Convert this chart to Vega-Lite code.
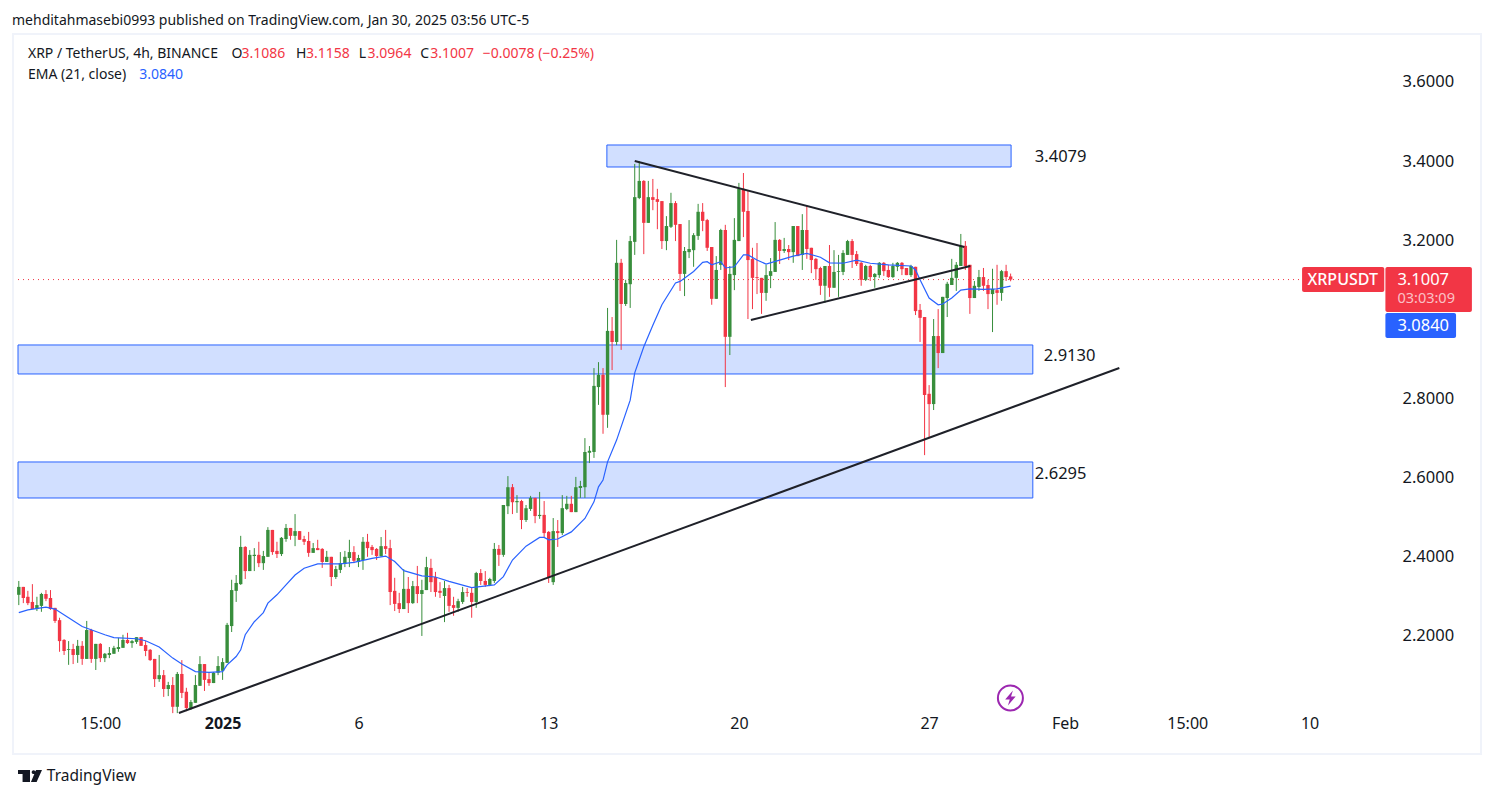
{"$schema":"https://vega.github.io/schema/vega-lite/v6.json","width":1468,"height":720,"autosize":"none","padding":{"left":13,"top":34,"right":13,"bottom":44},"background":"#ffffff","config":{"view":{"stroke":"#f0f3fa","strokeWidth":2},"font":"Noto Sans"},"title":{"text":"mehditahmasebi0993 published on TradingView.com, Jan 30, 2025 03:56 UTC-5","anchor":"start","frame":"group","font":"Noto Sans","fontSize":14,"fontWeight":"normal","color":"#131722","offset":6,"dx":-1},"encoding":{"x":{"field":"t","type":"temporal","title":null,"scale":{"type":"utc","nice":false,"domain":[{"year":2024,"month":12,"date":24,"hours":11,"minutes":18,"utc":true},{"year":2025,"month":2,"date":16,"hours":3,"minutes":1,"utc":true}]},"axis":{"values":[{"year":2024,"month":12,"date":27,"hours":12,"utc":true},{"year":2025,"month":1,"date":1,"utc":true},{"year":2025,"month":1,"date":6,"utc":true},{"year":2025,"month":1,"date":13,"utc":true},{"year":2025,"month":1,"date":20,"utc":true},{"year":2025,"month":1,"date":27,"utc":true},{"year":2025,"month":2,"date":1,"utc":true},{"year":2025,"month":2,"date":5,"hours":12,"utc":true},{"year":2025,"month":2,"date":10,"utc":true}],"labelExpr":"utcmonth(datum.value)==11?'15:00':utcmonth(datum.value)==0&&utcdate(datum.value)==1?'2025':utcmonth(datum.value)==1&&utcdate(datum.value)==1?'Feb':utcmonth(datum.value)==1&&utcdate(datum.value)==5?'15:00':''+utcdate(datum.value)","labelFontWeight":{"condition":{"test":"utcmonth(datum.value)==0&&utcdate(datum.value)==1","value":"bold"},"value":"normal"},"grid":false,"domain":false,"ticks":false,"labelPadding":-31,"labelBaseline":"middle","labelFontSize":16,"labelColor":"#131722","labelFont":"Noto Sans","labelOverlap":false,"labelFlush":false,"labelBound":false}},"y":{"field":"p","type":"quantitative","title":null,"scale":{"nice":false,"zero":false,"domain":[1.9017,3.7213]},"axis":{"orient":"right","values":[2.2,2.4,2.6,2.8,3.0,3.2,3.4,3.6],"format":".4f","grid":false,"domain":false,"ticks":false,"labelPadding":-79,"labelAlign":"left","labelBaseline":"middle","labelFontSize":16.5,"labelColor":"#131722","labelFont":"Noto Sans","labelOverlap":false,"labelBound":false}}},"layer":[{"data":{"values":[{"t":"2025-01-15T03:24Z","t2":"2025-01-30T00:24Z","p":3.4408,"p2":3.3852},{"t":"2024-12-24T11:18Z","t2":"2025-01-30T19:36Z","p":2.9354,"p2":2.8621},{"t":"2024-12-24T11:18Z","t2":"2025-01-30T19:36Z","p":2.6397,"p2":2.5487}],"format":{"parse":{"t":"date","t2":"date"}}},"mark":{"type":"rect","fill":"#d1dfff","stroke":"#2962ff","strokeWidth":1},"encoding":{"x2":{"field":"t2"},"y2":{"field":"p2"}}},{"data":{"values":[{"t":"2024-12-24T11:18Z","t2":"2025-02-12T18:00Z","p":3.1007}],"format":{"parse":{"t":"date","t2":"date"}}},"mark":{"type":"rule","stroke":"#f23645","strokeWidth":1,"strokeDash":[1,4]},"encoding":{"x2":{"field":"t2"}}},{"data":{"name":"candles","values":[
{"t":"2024-12-24T12:00Z","o":2.304,"h":2.339,"l":2.278,"c":2.324},
{"t":"2024-12-24T16:00Z","o":2.324,"h":2.324,"l":2.283,"c":2.296},
{"t":"2024-12-24T20:00Z","o":2.299,"h":2.314,"l":2.278,"c":2.283},
{"t":"2024-12-25T00:00Z","o":2.286,"h":2.331,"l":2.268,"c":2.268},
{"t":"2024-12-25T04:00Z","o":2.268,"h":2.299,"l":2.263,"c":2.278},
{"t":"2024-12-25T08:00Z","o":2.276,"h":2.309,"l":2.261,"c":2.306},
{"t":"2024-12-25T12:00Z","o":2.306,"h":2.316,"l":2.288,"c":2.294},
{"t":"2024-12-25T16:00Z","o":2.296,"h":2.316,"l":2.266,"c":2.268},
{"t":"2024-12-25T20:00Z","o":2.271,"h":2.271,"l":2.233,"c":2.238},
{"t":"2024-12-26T00:00Z","o":2.240,"h":2.246,"l":2.160,"c":2.187},
{"t":"2024-12-26T04:00Z","o":2.190,"h":2.192,"l":2.152,"c":2.162},
{"t":"2024-12-26T08:00Z","o":2.165,"h":2.187,"l":2.127,"c":2.167},
{"t":"2024-12-26T12:00Z","o":2.167,"h":2.180,"l":2.129,"c":2.152},
{"t":"2024-12-26T16:00Z","o":2.152,"h":2.190,"l":2.132,"c":2.175},
{"t":"2024-12-26T20:00Z","o":2.175,"h":2.187,"l":2.127,"c":2.142},
{"t":"2024-12-27T00:00Z","o":2.142,"h":2.238,"l":2.142,"c":2.215},
{"t":"2024-12-27T04:00Z","o":2.215,"h":2.218,"l":2.132,"c":2.142},
{"t":"2024-12-27T08:00Z","o":2.142,"h":2.180,"l":2.114,"c":2.180},
{"t":"2024-12-27T12:00Z","o":2.180,"h":2.182,"l":2.134,"c":2.144},
{"t":"2024-12-27T16:00Z","o":2.144,"h":2.157,"l":2.134,"c":2.155},
{"t":"2024-12-27T20:00Z","o":2.152,"h":2.172,"l":2.144,"c":2.157},
{"t":"2024-12-28T00:00Z","o":2.155,"h":2.175,"l":2.155,"c":2.170},
{"t":"2024-12-28T04:00Z","o":2.167,"h":2.195,"l":2.160,"c":2.172},
{"t":"2024-12-28T08:00Z","o":2.170,"h":2.203,"l":2.170,"c":2.190},
{"t":"2024-12-28T12:00Z","o":2.190,"h":2.208,"l":2.180,"c":2.182},
{"t":"2024-12-28T16:00Z","o":2.182,"h":2.190,"l":2.170,"c":2.187},
{"t":"2024-12-28T20:00Z","o":2.185,"h":2.197,"l":2.180,"c":2.197},
{"t":"2024-12-29T00:00Z","o":2.197,"h":2.197,"l":2.175,"c":2.175},
{"t":"2024-12-29T04:00Z","o":2.177,"h":2.187,"l":2.149,"c":2.162},
{"t":"2024-12-29T08:00Z","o":2.165,"h":2.167,"l":2.137,"c":2.139},
{"t":"2024-12-29T12:00Z","o":2.142,"h":2.142,"l":2.071,"c":2.091},
{"t":"2024-12-29T16:00Z","o":2.091,"h":2.152,"l":2.084,"c":2.101},
{"t":"2024-12-29T20:00Z","o":2.101,"h":2.114,"l":2.046,"c":2.066},
{"t":"2024-12-30T00:00Z","o":2.066,"h":2.084,"l":2.048,"c":2.076},
{"t":"2024-12-30T04:00Z","o":2.076,"h":2.096,"l":2.005,"c":2.021},
{"t":"2024-12-30T08:00Z","o":2.021,"h":2.109,"l":2.005,"c":2.104},
{"t":"2024-12-30T12:00Z","o":2.104,"h":2.139,"l":2.043,"c":2.056},
{"t":"2024-12-30T16:00Z","o":2.059,"h":2.069,"l":2.010,"c":2.018},
{"t":"2024-12-30T20:00Z","o":2.018,"h":2.038,"l":2.013,"c":2.033},
{"t":"2024-12-31T00:00Z","o":2.031,"h":2.101,"l":2.031,"c":2.076},
{"t":"2024-12-31T04:00Z","o":2.074,"h":2.149,"l":2.074,"c":2.129},
{"t":"2024-12-31T08:00Z","o":2.129,"h":2.129,"l":2.061,"c":2.089},
{"t":"2024-12-31T12:00Z","o":2.091,"h":2.107,"l":2.074,"c":2.081},
{"t":"2024-12-31T16:00Z","o":2.081,"h":2.109,"l":2.081,"c":2.107},
{"t":"2024-12-31T20:00Z","o":2.107,"h":2.149,"l":2.101,"c":2.124},
{"t":"2025-01-01T00:00Z","o":2.112,"h":2.144,"l":2.089,"c":2.134},
{"t":"2025-01-01T04:00Z","o":2.132,"h":2.233,"l":2.132,"c":2.228},
{"t":"2025-01-01T08:00Z","o":2.225,"h":2.342,"l":2.210,"c":2.316},
{"t":"2025-01-01T12:00Z","o":2.314,"h":2.354,"l":2.286,"c":2.334},
{"t":"2025-01-01T16:00Z","o":2.331,"h":2.453,"l":2.329,"c":2.425},
{"t":"2025-01-01T20:00Z","o":2.425,"h":2.427,"l":2.344,"c":2.364},
{"t":"2025-01-02T00:00Z","o":2.364,"h":2.417,"l":2.364,"c":2.405},
{"t":"2025-01-02T04:00Z","o":2.402,"h":2.422,"l":2.364,"c":2.405},
{"t":"2025-01-02T08:00Z","o":2.405,"h":2.438,"l":2.374,"c":2.384},
{"t":"2025-01-02T12:00Z","o":2.384,"h":2.415,"l":2.367,"c":2.402},
{"t":"2025-01-02T16:00Z","o":2.400,"h":2.475,"l":2.400,"c":2.468},
{"t":"2025-01-02T20:00Z","o":2.468,"h":2.468,"l":2.405,"c":2.412},
{"t":"2025-01-03T00:00Z","o":2.415,"h":2.438,"l":2.397,"c":2.407},
{"t":"2025-01-03T04:00Z","o":2.407,"h":2.450,"l":2.402,"c":2.448},
{"t":"2025-01-03T08:00Z","o":2.445,"h":2.483,"l":2.438,"c":2.473},
{"t":"2025-01-03T12:00Z","o":2.473,"h":2.473,"l":2.443,"c":2.453},
{"t":"2025-01-03T16:00Z","o":2.453,"h":2.508,"l":2.427,"c":2.465},
{"t":"2025-01-03T20:00Z","o":2.465,"h":2.465,"l":2.443,"c":2.443},
{"t":"2025-01-04T00:00Z","o":2.445,"h":2.453,"l":2.430,"c":2.438},
{"t":"2025-01-04T04:00Z","o":2.440,"h":2.463,"l":2.400,"c":2.410},
{"t":"2025-01-04T08:00Z","o":2.410,"h":2.435,"l":2.410,"c":2.422},
{"t":"2025-01-04T12:00Z","o":2.422,"h":2.443,"l":2.417,"c":2.417},
{"t":"2025-01-04T16:00Z","o":2.420,"h":2.422,"l":2.372,"c":2.387},
{"t":"2025-01-04T20:00Z","o":2.387,"h":2.415,"l":2.387,"c":2.400},
{"t":"2025-01-05T00:00Z","o":2.400,"h":2.400,"l":2.326,"c":2.349},
{"t":"2025-01-05T04:00Z","o":2.349,"h":2.377,"l":2.344,"c":2.369},
{"t":"2025-01-05T08:00Z","o":2.367,"h":2.412,"l":2.359,"c":2.384},
{"t":"2025-01-05T12:00Z","o":2.382,"h":2.415,"l":2.374,"c":2.400},
{"t":"2025-01-05T16:00Z","o":2.397,"h":2.443,"l":2.374,"c":2.412},
{"t":"2025-01-05T20:00Z","o":2.412,"h":2.427,"l":2.384,"c":2.390},
{"t":"2025-01-06T00:00Z","o":2.387,"h":2.405,"l":2.374,"c":2.397},
{"t":"2025-01-06T04:00Z","o":2.392,"h":2.450,"l":2.367,"c":2.438},
{"t":"2025-01-06T08:00Z","o":2.438,"h":2.458,"l":2.400,"c":2.422},
{"t":"2025-01-06T12:00Z","o":2.425,"h":2.430,"l":2.405,"c":2.417},
{"t":"2025-01-06T16:00Z","o":2.420,"h":2.422,"l":2.392,"c":2.402},
{"t":"2025-01-06T20:00Z","o":2.402,"h":2.450,"l":2.400,"c":2.427},
{"t":"2025-01-07T00:00Z","o":2.427,"h":2.468,"l":2.407,"c":2.420},
{"t":"2025-01-07T04:00Z","o":2.422,"h":2.443,"l":2.278,"c":2.311},
{"t":"2025-01-07T08:00Z","o":2.314,"h":2.347,"l":2.263,"c":2.281},
{"t":"2025-01-07T12:00Z","o":2.283,"h":2.309,"l":2.258,"c":2.268},
{"t":"2025-01-07T16:00Z","o":2.268,"h":2.369,"l":2.268,"c":2.319},
{"t":"2025-01-07T20:00Z","o":2.319,"h":2.349,"l":2.258,"c":2.283},
{"t":"2025-01-08T00:00Z","o":2.283,"h":2.339,"l":2.281,"c":2.326},
{"t":"2025-01-08T04:00Z","o":2.326,"h":2.377,"l":2.283,"c":2.306},
{"t":"2025-01-08T08:00Z","o":2.306,"h":2.342,"l":2.200,"c":2.316},
{"t":"2025-01-08T12:00Z","o":2.316,"h":2.400,"l":2.316,"c":2.374},
{"t":"2025-01-08T16:00Z","o":2.372,"h":2.395,"l":2.311,"c":2.336},
{"t":"2025-01-08T20:00Z","o":2.349,"h":2.362,"l":2.299,"c":2.311},
{"t":"2025-01-09T00:00Z","o":2.314,"h":2.336,"l":2.296,"c":2.309},
{"t":"2025-01-09T04:00Z","o":2.301,"h":2.339,"l":2.235,"c":2.321},
{"t":"2025-01-09T08:00Z","o":2.321,"h":2.329,"l":2.261,"c":2.276},
{"t":"2025-01-09T12:00Z","o":2.278,"h":2.299,"l":2.251,"c":2.271},
{"t":"2025-01-09T16:00Z","o":2.271,"h":2.294,"l":2.261,"c":2.288},
{"t":"2025-01-09T20:00Z","o":2.286,"h":2.324,"l":2.281,"c":2.311},
{"t":"2025-01-10T00:00Z","o":2.311,"h":2.321,"l":2.299,"c":2.309},
{"t":"2025-01-10T04:00Z","o":2.309,"h":2.321,"l":2.246,"c":2.286},
{"t":"2025-01-10T08:00Z","o":2.286,"h":2.362,"l":2.271,"c":2.359},
{"t":"2025-01-10T12:00Z","o":2.359,"h":2.369,"l":2.329,"c":2.339},
{"t":"2025-01-10T16:00Z","o":2.339,"h":2.364,"l":2.324,"c":2.329},
{"t":"2025-01-10T20:00Z","o":2.329,"h":2.347,"l":2.326,"c":2.344},
{"t":"2025-01-11T00:00Z","o":2.339,"h":2.435,"l":2.334,"c":2.420},
{"t":"2025-01-11T04:00Z","o":2.420,"h":2.430,"l":2.377,"c":2.405},
{"t":"2025-01-11T08:00Z","o":2.405,"h":2.531,"l":2.400,"c":2.531},
{"t":"2025-01-11T12:00Z","o":2.528,"h":2.604,"l":2.508,"c":2.576},
{"t":"2025-01-11T16:00Z","o":2.576,"h":2.584,"l":2.508,"c":2.538},
{"t":"2025-01-11T20:00Z","o":2.538,"h":2.556,"l":2.511,"c":2.541},
{"t":"2025-01-12T00:00Z","o":2.541,"h":2.544,"l":2.470,"c":2.493},
{"t":"2025-01-12T04:00Z","o":2.493,"h":2.531,"l":2.488,"c":2.523},
{"t":"2025-01-12T08:00Z","o":2.521,"h":2.554,"l":2.516,"c":2.549},
{"t":"2025-01-12T12:00Z","o":2.549,"h":2.549,"l":2.485,"c":2.503},
{"t":"2025-01-12T16:00Z","o":2.503,"h":2.564,"l":2.496,"c":2.506},
{"t":"2025-01-12T20:00Z","o":2.506,"h":2.541,"l":2.450,"c":2.460},
{"t":"2025-01-13T00:00Z","o":2.463,"h":2.465,"l":2.334,"c":2.347},
{"t":"2025-01-13T04:00Z","o":2.336,"h":2.498,"l":2.329,"c":2.465},
{"t":"2025-01-13T08:00Z","o":2.465,"h":2.493,"l":2.425,"c":2.460},
{"t":"2025-01-13T12:00Z","o":2.460,"h":2.556,"l":2.455,"c":2.523},
{"t":"2025-01-13T16:00Z","o":2.521,"h":2.554,"l":2.518,"c":2.534},
{"t":"2025-01-13T20:00Z","o":2.534,"h":2.554,"l":2.513,"c":2.513},
{"t":"2025-01-14T00:00Z","o":2.513,"h":2.602,"l":2.513,"c":2.576},
{"t":"2025-01-14T04:00Z","o":2.574,"h":2.592,"l":2.549,"c":2.579},
{"t":"2025-01-14T08:00Z","o":2.576,"h":2.700,"l":2.549,"c":2.665},
{"t":"2025-01-14T12:00Z","o":2.663,"h":2.680,"l":2.637,"c":2.668},
{"t":"2025-01-14T16:00Z","o":2.665,"h":2.877,"l":2.650,"c":2.832},
{"t":"2025-01-14T20:00Z","o":2.829,"h":2.892,"l":2.784,"c":2.860},
{"t":"2025-01-15T00:00Z","o":2.860,"h":2.877,"l":2.711,"c":2.759},
{"t":"2025-01-15T04:00Z","o":2.759,"h":3.029,"l":2.726,"c":2.971},
{"t":"2025-01-15T08:00Z","o":2.971,"h":3.006,"l":2.872,"c":2.943},
{"t":"2025-01-15T12:00Z","o":2.943,"h":3.201,"l":2.935,"c":3.143},
{"t":"2025-01-15T16:00Z","o":3.143,"h":3.153,"l":2.923,"c":3.039},
{"t":"2025-01-15T20:00Z","o":3.039,"h":3.100,"l":3.034,"c":3.092},
{"t":"2025-01-16T00:00Z","o":3.089,"h":3.211,"l":3.029,"c":3.198},
{"t":"2025-01-16T04:00Z","o":3.196,"h":3.393,"l":3.163,"c":3.309},
{"t":"2025-01-16T08:00Z","o":3.307,"h":3.400,"l":3.304,"c":3.350},
{"t":"2025-01-16T12:00Z","o":3.350,"h":3.352,"l":3.165,"c":3.244},
{"t":"2025-01-16T16:00Z","o":3.244,"h":3.350,"l":3.244,"c":3.309},
{"t":"2025-01-16T20:00Z","o":3.309,"h":3.355,"l":3.276,"c":3.302},
{"t":"2025-01-17T00:00Z","o":3.304,"h":3.330,"l":3.228,"c":3.297},
{"t":"2025-01-17T04:00Z","o":3.299,"h":3.299,"l":3.178,"c":3.198},
{"t":"2025-01-17T08:00Z","o":3.198,"h":3.261,"l":3.175,"c":3.236},
{"t":"2025-01-17T12:00Z","o":3.234,"h":3.320,"l":3.231,"c":3.294},
{"t":"2025-01-17T16:00Z","o":3.294,"h":3.299,"l":3.198,"c":3.239},
{"t":"2025-01-17T20:00Z","o":3.241,"h":3.241,"l":3.072,"c":3.115},
{"t":"2025-01-18T00:00Z","o":3.115,"h":3.183,"l":3.059,"c":3.173},
{"t":"2025-01-18T04:00Z","o":3.170,"h":3.251,"l":3.155,"c":3.178},
{"t":"2025-01-18T08:00Z","o":3.175,"h":3.218,"l":3.133,"c":3.213},
{"t":"2025-01-18T12:00Z","o":3.211,"h":3.292,"l":3.201,"c":3.272},
{"t":"2025-01-18T16:00Z","o":3.272,"h":3.294,"l":3.223,"c":3.249},
{"t":"2025-01-18T20:00Z","o":3.251,"h":3.254,"l":3.173,"c":3.181},
{"t":"2025-01-19T00:00Z","o":3.183,"h":3.183,"l":3.037,"c":3.052},
{"t":"2025-01-19T04:00Z","o":3.052,"h":3.160,"l":3.052,"c":3.125},
{"t":"2025-01-19T08:00Z","o":3.138,"h":3.229,"l":3.125,"c":3.226},
{"t":"2025-01-19T12:00Z","o":3.226,"h":3.239,"l":2.829,"c":2.956},
{"t":"2025-01-19T16:00Z","o":2.956,"h":3.135,"l":2.910,"c":3.115},
{"t":"2025-01-19T20:00Z","o":3.112,"h":3.256,"l":3.074,"c":3.201},
{"t":"2025-01-20T00:00Z","o":3.198,"h":3.345,"l":3.198,"c":3.330},
{"t":"2025-01-20T04:00Z","o":3.330,"h":3.370,"l":3.208,"c":3.272},
{"t":"2025-01-20T08:00Z","o":3.274,"h":3.325,"l":3.001,"c":3.150},
{"t":"2025-01-20T12:00Z","o":3.153,"h":3.181,"l":3.026,"c":3.105},
{"t":"2025-01-20T16:00Z","o":3.107,"h":3.193,"l":3.064,"c":3.105},
{"t":"2025-01-20T20:00Z","o":3.105,"h":3.105,"l":3.014,"c":3.067},
{"t":"2025-01-21T00:00Z","o":3.067,"h":3.138,"l":3.047,"c":3.112},
{"t":"2025-01-21T04:00Z","o":3.110,"h":3.155,"l":3.079,"c":3.122},
{"t":"2025-01-21T08:00Z","o":3.120,"h":3.246,"l":3.120,"c":3.201},
{"t":"2025-01-21T12:00Z","o":3.201,"h":3.203,"l":3.140,"c":3.173},
{"t":"2025-01-21T16:00Z","o":3.173,"h":3.206,"l":3.168,"c":3.178},
{"t":"2025-01-21T20:00Z","o":3.178,"h":3.188,"l":3.150,"c":3.170},
{"t":"2025-01-22T00:00Z","o":3.170,"h":3.236,"l":3.143,"c":3.236},
{"t":"2025-01-22T04:00Z","o":3.236,"h":3.236,"l":3.160,"c":3.160},
{"t":"2025-01-22T08:00Z","o":3.163,"h":3.266,"l":3.125,"c":3.226},
{"t":"2025-01-22T12:00Z","o":3.226,"h":3.287,"l":3.153,"c":3.178},
{"t":"2025-01-22T16:00Z","o":3.181,"h":3.181,"l":3.117,"c":3.150},
{"t":"2025-01-22T20:00Z","o":3.153,"h":3.155,"l":3.100,"c":3.127},
{"t":"2025-01-23T00:00Z","o":3.130,"h":3.133,"l":3.062,"c":3.085},
{"t":"2025-01-23T04:00Z","o":3.085,"h":3.135,"l":3.042,"c":3.135},
{"t":"2025-01-23T08:00Z","o":3.135,"h":3.188,"l":3.057,"c":3.080},
{"t":"2025-01-23T12:00Z","o":3.080,"h":3.175,"l":3.080,"c":3.120},
{"t":"2025-01-23T16:00Z","o":3.120,"h":3.163,"l":3.057,"c":3.122},
{"t":"2025-01-23T20:00Z","o":3.120,"h":3.175,"l":3.112,"c":3.168},
{"t":"2025-01-24T00:00Z","o":3.163,"h":3.201,"l":3.163,"c":3.198},
{"t":"2025-01-24T04:00Z","o":3.198,"h":3.203,"l":3.130,"c":3.163},
{"t":"2025-01-24T08:00Z","o":3.165,"h":3.173,"l":3.135,"c":3.140},
{"t":"2025-01-24T12:00Z","o":3.143,"h":3.145,"l":3.085,"c":3.100},
{"t":"2025-01-24T16:00Z","o":3.100,"h":3.138,"l":3.097,"c":3.135},
{"t":"2025-01-24T20:00Z","o":3.135,"h":3.138,"l":3.097,"c":3.107},
{"t":"2025-01-25T00:00Z","o":3.107,"h":3.117,"l":3.080,"c":3.115},
{"t":"2025-01-25T04:00Z","o":3.112,"h":3.145,"l":3.105,"c":3.143},
{"t":"2025-01-25T08:00Z","o":3.143,"h":3.145,"l":3.110,"c":3.122},
{"t":"2025-01-25T12:00Z","o":3.125,"h":3.138,"l":3.105,"c":3.107},
{"t":"2025-01-25T16:00Z","o":3.107,"h":3.143,"l":3.105,"c":3.135},
{"t":"2025-01-25T20:00Z","o":3.133,"h":3.145,"l":3.122,"c":3.143},
{"t":"2025-01-26T00:00Z","o":3.143,"h":3.145,"l":3.112,"c":3.127},
{"t":"2025-01-26T04:00Z","o":3.130,"h":3.130,"l":3.112,"c":3.112},
{"t":"2025-01-26T08:00Z","o":3.112,"h":3.138,"l":3.107,"c":3.135},
{"t":"2025-01-26T12:00Z","o":3.133,"h":3.133,"l":3.011,"c":3.021},
{"t":"2025-01-26T16:00Z","o":3.024,"h":3.039,"l":2.943,"c":3.004},
{"t":"2025-01-26T20:00Z","o":3.006,"h":3.006,"l":2.657,"c":2.809},
{"t":"2025-01-27T00:00Z","o":2.812,"h":2.834,"l":2.700,"c":2.786},
{"t":"2025-01-27T04:00Z","o":2.786,"h":3.001,"l":2.771,"c":2.958},
{"t":"2025-01-27T08:00Z","o":2.958,"h":3.026,"l":2.877,"c":2.915},
{"t":"2025-01-27T12:00Z","o":2.915,"h":3.057,"l":2.915,"c":3.057},
{"t":"2025-01-27T16:00Z","o":3.054,"h":3.095,"l":3.006,"c":3.090},
{"t":"2025-01-27T20:00Z","o":3.087,"h":3.153,"l":3.087,"c":3.105},
{"t":"2025-01-28T00:00Z","o":3.105,"h":3.145,"l":3.072,"c":3.138},
{"t":"2025-01-28T04:00Z","o":3.135,"h":3.216,"l":3.135,"c":3.186},
{"t":"2025-01-28T08:00Z","o":3.186,"h":3.198,"l":3.125,"c":3.135},
{"t":"2025-01-28T12:00Z","o":3.138,"h":3.138,"l":3.014,"c":3.054},
{"t":"2025-01-28T16:00Z","o":3.054,"h":3.097,"l":3.054,"c":3.085},
{"t":"2025-01-28T20:00Z","o":3.082,"h":3.125,"l":3.072,"c":3.107},
{"t":"2025-01-29T00:00Z","o":3.107,"h":3.130,"l":3.072,"c":3.085},
{"t":"2025-01-29T04:00Z","o":3.087,"h":3.100,"l":3.026,"c":3.064},
{"t":"2025-01-29T08:00Z","o":3.064,"h":3.128,"l":2.968,"c":3.077},
{"t":"2025-01-29T12:00Z","o":3.074,"h":3.138,"l":3.037,"c":3.067},
{"t":"2025-01-29T16:00Z","o":3.067,"h":3.125,"l":3.047,"c":3.122},
{"t":"2025-01-29T20:00Z","o":3.122,"h":3.138,"l":3.097,"c":3.107},
{"t":"2025-01-30T00:00Z","o":3.1086,"h":3.1158,"l":3.0964,"c":3.1007}
],"format":{"parse":{"t":"date"}}},"mark":{"type":"rule","strokeWidth":1},"encoding":{"y":{"field":"h","type":"quantitative","title":null},"y2":{"field":"l"},"color":{"condition":{"test":"datum.c>=datum.o","value":"#388e3c"},"value":"#f23645"}}},{"data":{"name":"candles"},"mark":{"type":"bar","size":3.4},"encoding":{"y":{"field":"o","type":"quantitative","title":null},"y2":{"field":"c"},"color":{"condition":{"test":"datum.c>=datum.o","value":"#388e3c"},"value":"#f23645"}}},{"data":{"values":[{"t":"2024-12-24T12:00Z","p":2.259},{"t":"2024-12-24T20:00Z","p":2.266},{"t":"2024-12-25T12:00Z","p":2.273},{"t":"2024-12-25T20:00Z","p":2.268},{"t":"2024-12-26T08:00Z","p":2.246},{"t":"2024-12-26T20:00Z","p":2.224},{"t":"2024-12-27T16:00Z","p":2.203},{"t":"2024-12-28T00:00Z","p":2.196},{"t":"2024-12-28T20:00Z","p":2.193},{"t":"2024-12-29T04:00Z","p":2.188},{"t":"2024-12-29T16:00Z","p":2.172},{"t":"2024-12-30T04:00Z","p":2.144},{"t":"2024-12-30T12:00Z","p":2.129},{"t":"2024-12-31T00:00Z","p":2.110},{"t":"2024-12-31T12:00Z","p":2.108},{"t":"2025-01-01T00:00Z","p":2.110},{"t":"2025-01-01T04:00Z","p":2.127},{"t":"2025-01-01T12:00Z","p":2.148},{"t":"2025-01-01T16:00Z","p":2.165},{"t":"2025-01-01T20:00Z","p":2.203},{"t":"2025-01-02T04:00Z","p":2.236},{"t":"2025-01-02T12:00Z","p":2.259},{"t":"2025-01-02T16:00Z","p":2.283},{"t":"2025-01-03T00:00Z","p":2.304},{"t":"2025-01-03T08:00Z","p":2.329},{"t":"2025-01-03T16:00Z","p":2.354},{"t":"2025-01-04T00:00Z","p":2.371},{"t":"2025-01-04T12:00Z","p":2.382},{"t":"2025-01-05T08:00Z","p":2.382},{"t":"2025-01-05T20:00Z","p":2.386},{"t":"2025-01-06T12:00Z","p":2.396},{"t":"2025-01-07T00:00Z","p":2.402},{"t":"2025-01-07T08:00Z","p":2.388},{"t":"2025-01-07T16:00Z","p":2.365},{"t":"2025-01-08T08:00Z","p":2.352},{"t":"2025-01-08T20:00Z","p":2.349},{"t":"2025-01-09T08:00Z","p":2.338},{"t":"2025-01-10T04:00Z","p":2.322},{"t":"2025-01-11T00:00Z","p":2.329},{"t":"2025-01-11T08:00Z","p":2.350},{"t":"2025-01-11T16:00Z","p":2.392},{"t":"2025-01-12T04:00Z","p":2.427},{"t":"2025-01-12T16:00Z","p":2.449},{"t":"2025-01-12T20:00Z","p":2.449},{"t":"2025-01-13T00:00Z","p":2.443},{"t":"2025-01-13T08:00Z","p":2.445},{"t":"2025-01-13T20:00Z","p":2.463},{"t":"2025-01-14T08:00Z","p":2.497},{"t":"2025-01-14T16:00Z","p":2.539},{"t":"2025-01-14T20:00Z","p":2.577},{"t":"2025-01-15T00:00Z","p":2.594},{"t":"2025-01-15T04:00Z","p":2.640},{"t":"2025-01-15T12:00Z","p":2.695},{"t":"2025-01-16T00:00Z","p":2.796},{"t":"2025-01-16T04:00Z","p":2.865},{"t":"2025-01-16T12:00Z","p":2.931},{"t":"2025-01-16T20:00Z","p":2.985},{"t":"2025-01-17T04:00Z","p":3.037},{"t":"2025-01-17T16:00Z","p":3.092},{"t":"2025-01-17T20:00Z","p":3.096},{"t":"2025-01-18T08:00Z","p":3.121},{"t":"2025-01-18T16:00Z","p":3.144},{"t":"2025-01-18T20:00Z","p":3.146},{"t":"2025-01-19T00:00Z","p":3.138},{"t":"2025-01-19T08:00Z","p":3.146},{"t":"2025-01-19T12:00Z","p":3.130},{"t":"2025-01-19T20:00Z","p":3.133},{"t":"2025-01-20T04:00Z","p":3.163},{"t":"2025-01-20T08:00Z","p":3.163},{"t":"2025-01-20T16:00Z","p":3.150},{"t":"2025-01-21T00:00Z","p":3.140},{"t":"2025-01-21T12:00Z","p":3.150},{"t":"2025-01-22T00:00Z","p":3.160},{"t":"2025-01-22T12:00Z","p":3.167},{"t":"2025-01-23T00:00Z","p":3.157},{"t":"2025-01-23T08:00Z","p":3.143},{"t":"2025-01-23T20:00Z","p":3.142},{"t":"2025-01-24T08:00Z","p":3.150},{"t":"2025-01-24T20:00Z","p":3.142},{"t":"2025-01-25T12:00Z","p":3.138},{"t":"2025-01-26T08:00Z","p":3.135},{"t":"2025-01-26T12:00Z","p":3.125},{"t":"2025-01-26T16:00Z","p":3.100},{"t":"2025-01-27T00:00Z","p":3.054},{"t":"2025-01-27T08:00Z","p":3.037},{"t":"2025-01-27T12:00Z","p":3.039},{"t":"2025-01-27T20:00Z","p":3.054},{"t":"2025-01-28T04:00Z","p":3.074},{"t":"2025-01-28T12:00Z","p":3.077},{"t":"2025-01-29T00:00Z","p":3.076},{"t":"2025-01-29T12:00Z","p":3.077},{"t":"2025-01-30T00:00Z","p":3.084}],"format":{"parse":{"t":"date"}}},"mark":{"type":"line","stroke":"#2962ff","strokeWidth":1.2},"encoding":{}},{"data":{"values":[{"t":"2024-12-30T09:24Z","t2":"2025-02-03T00:00Z","p":2.0054,"p2":2.8772},{"t":"2025-01-16T04:00Z","t2":"2025-01-28T07:06Z","p":3.4004,"p2":3.183},{"t":"2025-01-20T10:36Z","t2":"2025-01-28T12:24Z","p":2.9985,"p2":3.135}],"format":{"parse":{"t":"date","t2":"date"}}},"mark":{"type":"rule","stroke":"#1f2129","strokeWidth":2},"encoding":{"x2":{"field":"t2"},"y2":{"field":"p2"}}},{"data":{"values":[{"t":"2025-02-09T17:24Z","t2":"2025-02-12T18:00Z","p":3.1325,"p2":3.0693},{"t":"2025-02-12T19:00Z","t2":"2025-02-15T23:24Z","p":3.1325,"p2":3.0188}],"format":{"parse":{"t":"date","t2":"date"}}},"mark":{"type":"rect","fill":"#f23645","cornerRadius":2},"encoding":{"x2":{"field":"t2"},"y2":{"field":"p2"}}},{"data":{"values":[{"t":"2025-02-12T19:00Z","t2":"2025-02-15T09:24Z","p":3.0162,"p2":2.953}],"format":{"parse":{"t":"date","t2":"date"}}},"mark":{"type":"rect","fill":"#2962ff","cornerRadius":2},"encoding":{"x2":{"field":"t2"},"y2":{"field":"p2"}}},{"data":{"values":[{"t":"2025-01-30T21:24Z","p":3.4105,"label":"3.4079"},{"t":"2025-01-31T05:18Z","p":2.9076,"label":"2.9130"},{"t":"2025-01-30T21:24Z","p":2.6094,"label":"2.6295"}],"format":{"parse":{"t":"date"}}},"mark":{"type":"text","align":"left","baseline":"middle","fontSize":16.5,"font":"Noto Sans","fill":"#131722"},"encoding":{"text":{"field":"label"}}},{"data":{"values":[{"t":"2025-02-11T05:18Z","p":3.0996,"label":"XRPUSDT"}],"format":{"parse":{"t":"date"}}},"mark":{"type":"text","align":"center","baseline":"middle","fontSize":16,"font":"Noto Sans","fontWeight":500,"fill":"#ffffff"},"encoding":{"text":{"field":"label"}}},{"data":{"values":[{"t":"2025-02-13T05:36Z","p":3.0996,"label":"3.1007"},{"t":"2025-02-13T05:36Z","p":2.9834,"label":"3.0840"}],"format":{"parse":{"t":"date"}}},"mark":{"type":"text","align":"left","baseline":"middle","fontSize":16.5,"font":"Noto Sans","fill":"#ffffff"},"encoding":{"text":{"field":"label"}}},{"data":{"values":[{"t":"2025-02-13T05:36Z","p":3.0516,"label":"03:03:09"}],"format":{"parse":{"t":"date"}}},"mark":{"type":"text","align":"left","baseline":"middle","fontSize":14.5,"font":"Noto Sans","fill":"#ffffff","fillOpacity":0.7},"encoding":{"text":{"field":"label"}}},{"data":{"values":[{"t":"2024-12-24T20:04Z","p":3.6708,"label":"XRP / TetherUS, 4h, BINANCE"},{"t":"2025-01-01T07:54Z","p":3.6708,"label":"O"},{"t":"2025-01-03T16:54Z","p":3.6708,"label":"H"},{"t":"2025-01-06T00:10Z","p":3.6708,"label":"L"},{"t":"2025-01-08T06:32Z","p":3.6708,"label":"C"},{"t":"2024-12-24T20:04Z","p":3.6177,"label":"EMA (21, close)"}],"format":{"parse":{"t":"date"}}},"mark":{"type":"text","align":"left","baseline":"middle","fontSize":14,"font":"Noto Sans","fill":"#131722"},"encoding":{"text":{"field":"label"}}},{"data":{"values":[{"t":"2025-01-01T16:40Z","p":3.6708,"label":"3.1086"},{"t":"2025-01-04T01:40Z","p":3.6708,"label":"3.1158"},{"t":"2025-01-06T08:04Z","p":3.6708,"label":"3.0964"},{"t":"2025-01-08T15:20Z","p":3.6708,"label":"3.1007"},{"t":"2025-01-10T13:48Z","p":3.6708,"label":"−0.0078 (−0.25%)"}],"format":{"parse":{"t":"date"}}},"mark":{"type":"text","align":"left","baseline":"middle","fontSize":14,"font":"Noto Sans","fill":"#f23645"},"encoding":{"text":{"field":"label"}}},{"data":{"values":[{"t":"2024-12-28T22:20Z","p":3.6177,"label":"3.0840"}],"format":{"parse":{"t":"date"}}},"mark":{"type":"text","align":"left","baseline":"middle","fontSize":14,"font":"Noto Sans","fill":"#2962ff"},"encoding":{"text":{"field":"label"}}},{"data":{"values":[{"t":"2025-01-29T23:48Z","p":2.0433}],"format":{"parse":{"t":"date"}}},"mark":{"type":"point","shape":"circle","size":625,"filled":false,"stroke":"#9c27b0","strokeWidth":2,"opacity":1},"encoding":{}},{"data":{"values":[{"t":"2025-01-29T23:48Z","p":2.0433}],"format":{"parse":{"t":"date"}}},"mark":{"type":"point","shape":"M0.2,-0.6 L-0.42,0.12 L-0.05,0.12 L-0.2,0.6 L0.42,-0.12 L0.05,-0.12 Z","size":625,"filled":true,"fill":"#9c27b0","opacity":1},"encoding":{}},{"data":{"values":[{"t":"2024-12-24T21:54Z","p":1.8461}],"format":{"parse":{"t":"date"}}},"mark":{"type":"point","shape":"M-1,-0.5 H0 V0.5 H-0.62 V-0.16 H-1 Z M0.14,-0.32 A0.16,0.16 0 1 1 0.46,-0.32 A0.16,0.16 0 1 1 0.14,-0.32 Z M0.5,-0.5 H1 L0.55,0.5 H0.08 Z","size":576,"filled":true,"fill":"#131722","opacity":1},"encoding":{}},{"data":{"values":[{"t":"2024-12-25T12:48Z","p":1.8461,"label":"TradingView"}],"format":{"parse":{"t":"date"}}},"mark":{"type":"text","align":"left","baseline":"middle","fontSize":15.5,"font":"Noto Sans","fill":"#131722"},"encoding":{"text":{"field":"label"}}}]}
